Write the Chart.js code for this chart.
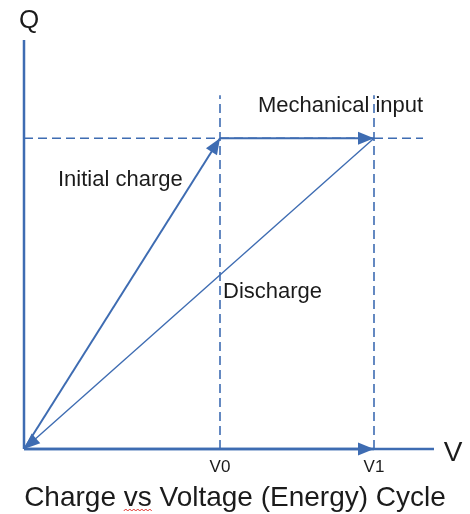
<!DOCTYPE html>
<html>
<head>
<meta charset="utf-8">
<script src="https://cdn.jsdelivr.net/npm/chart.js@4/dist/chart.umd.min.js"></script>
<style>
  html, body { margin: 0; padding: 0; background: #fff; }
  #wrap { width: 470px; height: 514px; position: relative; }
</style>
</head>
<body>
<div id="wrap"><canvas id="cycle"></canvas></div>
<script>
// values (V in units, Q in units)
var vTicks = [1.96, 3.5];
var vTickLabels = ['V0', 'V1'];
var qLevel = 3.1;
var axisEnd = [4.1, 4.08];      // x end, y end
var guideEnd = [3.99, 3.53];    // dashed horizontal end, dashed vertical top

var initialCharge = [{ x: 0, y: 0 }, { x: vTicks[0], y: qLevel }];
var mechanicalInput = [{ x: vTicks[0], y: qLevel }, { x: vTicks[1], y: qLevel }];
var discharge = [{ x: vTicks[1], y: qLevel }, { x: 0, y: 0 }];
var toV1 = [{ x: 0, y: 0 }, { x: vTicks[1], y: 0 }];

var blue = '#3e6cb2';
var ink = '#1b1b1b';

function seg(pts, width, dash, arrow) {
    return {
        data: pts,
        showLine: true,
        borderColor: blue,
        backgroundColor: blue,
        borderWidth: width,
        borderDash: dash || [],
        pointRadius: 0,
        clip: false,
        arrow: !!arrow
    };
}

// text placed at data coordinates
var notes = [
    { text: 'Mechanical input', x: 2.34, y: 3.42 },
    { text: 'Initial charge', x: 0.34, y: 2.68 },
    { text: 'Discharge', x: 1.99, y: 1.57 }
];

var arrowPlugin = {
    id: 'arrows',
    afterDatasetsDraw: function (chart) {
        var ctx = chart.ctx;
        var xs = chart.scales.x, ys = chart.scales.y;
        chart.data.datasets.forEach(function (ds) {
            if (!ds.arrow) return;
            var a = ds.data[ds.data.length - 2], b = ds.data[ds.data.length - 1];
            var x1 = xs.getPixelForValue(a.x), y1 = ys.getPixelForValue(a.y);
            var x2 = xs.getPixelForValue(b.x), y2 = ys.getPixelForValue(b.y);
            var ang = Math.atan2(y2 - y1, x2 - x1);
            var len = 16, half = 6.5;
            ctx.save();
            ctx.translate(x2, y2);
            ctx.rotate(ang);
            ctx.beginPath();
            ctx.moveTo(0, 0);
            ctx.lineTo(-len, -half);
            ctx.lineTo(-len, half);
            ctx.closePath();
            ctx.fillStyle = blue;
            ctx.fill();
            ctx.restore();
        });
    },
    afterDraw: function (chart) {
        var ctx = chart.ctx;
        var xs = chart.scales.x, ys = chart.scales.y;
        var area = chart.chartArea;
        ctx.save();
        ctx.fillStyle = ink;
        ctx.textBaseline = 'middle';
        ctx.textAlign = 'left';
        ctx.font = '22px "Liberation Sans", Arial, sans-serif';
        notes.forEach(function (n) {
            ctx.fillText(n.text, xs.getPixelForValue(n.x), ys.getPixelForValue(n.y));
        });
        // axis names
        ctx.textAlign = 'center';
        ctx.font = '26px "Liberation Sans", Arial, sans-serif';
        ctx.fillText('Q', area.left + 5, area.top - 19);
        ctx.font = '28px "Liberation Sans", Arial, sans-serif';
        ctx.fillText('V', area.right + 19, ys.getPixelForValue(0) + 4);
        // caption
        ctx.font = '28px "Liberation Sans", Arial, sans-serif';
        ctx.textBaseline = 'alphabetic';
        var cap = 'Charge vs Voltage (Energy) Cycle';
        var w = ctx.measureText(cap).width;
        var left = 235 - w / 2;
        var base = 506;
        ctx.fillText(cap, 235, base);
        var x0 = left + ctx.measureText('Charge ').width;
        var x1 = x0 + ctx.measureText('vs').width;
        ctx.beginPath();
        ctx.strokeStyle = '#e0342f';
        ctx.lineWidth = 1;
        var up = true;
        ctx.moveTo(x0, base + 5);
        for (var px = x0 + 2; px <= x1; px += 2) {
            ctx.lineTo(px, base + (up ? 3 : 5));
            up = !up;
        }
        ctx.stroke();
        ctx.restore();
    }
};

new Chart(document.getElementById('cycle'), {
    type: 'scatter',
    data: {
        datasets: [
            seg([{ x: 0, y: 0 }, { x: 0, y: axisEnd[1] }], 2.5),
            seg([{ x: 0, y: 0 }, { x: axisEnd[0], y: 0 }], 2.5),
            seg([{ x: 0, y: qLevel }, { x: guideEnd[0], y: qLevel }], 1.6, [9, 5]),
            seg([{ x: vTicks[0], y: 0 }, { x: vTicks[0], y: guideEnd[1] }], 1.6, [9, 5]),
            seg([{ x: vTicks[1], y: 0 }, { x: vTicks[1], y: guideEnd[1] }], 1.6, [9, 5]),
            seg(initialCharge, 2, null, true),
            seg(mechanicalInput, 2, null, true),
            seg(discharge, 1.4, null, true),
            seg(toV1, 2.5, null, true)
        ]
    },
    options: {
        responsive: true,
        maintainAspectRatio: false,
        animation: false,
        layout: { padding: { left: 24, right: 36, top: 40, bottom: 28.6 } },
        plugins: { legend: { display: false }, tooltip: { enabled: false } },
        scales: {
            x: {
                type: 'linear',
                min: 0,
                max: axisEnd[0],
                grid: { display: false, drawTicks: false },
                border: { display: false },
                afterBuildTicks: function (scale) {
                    scale.ticks = vTicks.map(function (v) { return { value: v }; });
                },
                ticks: {
                    padding: 8,
                    color: ink,
                    font: { size: 17, family: '"Liberation Sans", Arial, sans-serif' },
                    callback: function (value) {
                        var i = vTicks.indexOf(value);
                        return i >= 0 ? vTickLabels[i] : '';
                    },
                    maxRotation: 0
                }
            },
            y: { type: 'linear', min: 0, max: axisEnd[1], display: false }
        }
    },
    plugins: [arrowPlugin]
});
</script>
</body>
</html>
